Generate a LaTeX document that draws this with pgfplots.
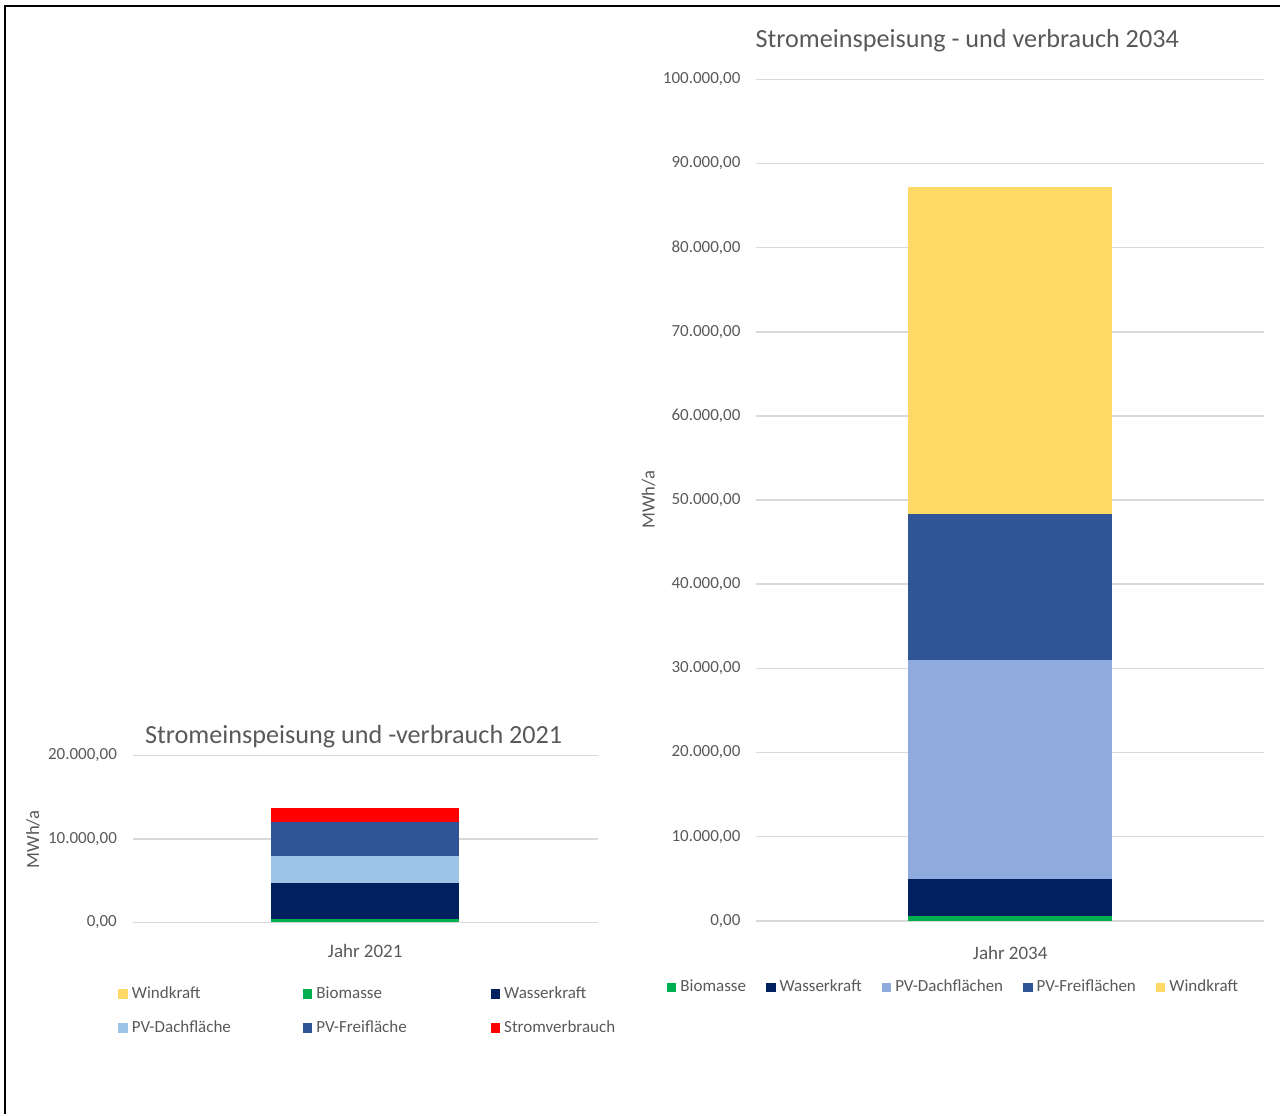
\documentclass[border=0pt]{standalone}
\usepackage{fontspec}
\setmainfont{Carlito}
\usepackage{pgfplots}
\pgfplotsset{compat=1.18}
\definecolor{cBio}{HTML}{00B050}
\definecolor{cWasser}{HTML}{002060}
\definecolor{cPVDa}{HTML}{9DC3E6}
\definecolor{cPVDb}{HTML}{8FAADC}
\definecolor{cPVF}{HTML}{2F5597}
\definecolor{cWind}{HTML}{FFD966}
\definecolor{cStrom}{HTML}{FF0000}
\definecolor{gridc}{HTML}{D9D9D9}
\definecolor{textc}{HTML}{595959}
\pgfplotsset{
  mybase/.style={
    scale only axis,
    ybar stacked,
    xmin=-1, xmax=1, ymin=0,
    axis line style={draw=none},
    tick style={draw=none},
    ymajorgrids,
    major grid style={draw=gridc, line width=0.75pt},
    xtick={0},
    scaled y ticks=false,
    /pgf/number format/assume math mode=true,
    yticklabel style={/pgf/number format/fixed, /pgf/number format/precision=2,
      /pgf/number format/fixed zerofill, /pgf/number format/use comma,
      /pgf/number format/1000 sep={.}, font=\fontsize{8.5}{10}\selectfont, text=textc, xshift=-4.5pt},
    xticklabel style={font=\fontsize{9.5}{11}\selectfont, text=textc, anchor=center},
    legend image code/.code={\fill[##1] (0pt,-2.4pt) rectangle (4.8pt,2.4pt);},
    legend cell align=left,
  }
}
\begin{document}
\begin{tikzpicture}[x=1pt,y=1pt]
\path (0,0) rectangle (640.5,557.5);
\draw[line width=1pt] (2.5,0) -- (2.5,554.5) -- (640.5,554.5);

% Left chart 2021
\begin{axis}[mybase,
  at={(66.5pt,96pt)}, anchor=south west,
  width=232.5pt, height=83.5pt,
  ymax=20000, ytick={0,10000,20000},
  bar width=94pt,
  xticklabels={Jahr 2021},
  xticklabel style={yshift=-14.5pt},
  legend columns=3,
  legend style={draw=none, fill=none, at={(-0.045,-0.335)}, anchor=north west,
    font=\fontsize{8.5}{10}\selectfont, text=textc,
    /tikz/every even column/.append style={column sep=34pt},
    row sep=5.5pt},
]
\addplot[fill=cWind, draw=none] coordinates {(0,0)};
\addplot[fill=cBio, draw=none] coordinates {(0,420)};
\addplot[fill=cWasser, draw=none] coordinates {(0,4250)};
\addplot[fill=cPVDa, draw=none] coordinates {(0,3230)};
\addplot[fill=cPVF, draw=none] coordinates {(0,4080)};
\addplot[fill=cStrom, draw=none] coordinates {(0,1670)};
\legend{Windkraft, Biomasse, Wasserkraft, PV-Dachfläche, PV-Freifläche\hspace*{6pt}, Stromverbrauch}
\end{axis}

% Right chart 2034
\begin{axis}[mybase,
  at={(378.5pt,96.75pt)}, anchor=south west,
  width=254pt, height=421pt,
  ymax=100000, ytick distance=10000,
  bar width=102pt,
  xticklabels={Jahr 2034},
  xticklabel style={yshift=-16pt},
  legend columns=5,
  legend style={draw=none, fill=none, at={(-0.189,-0.0605)}, anchor=north west,
    font=\fontsize{8.5}{10}\selectfont, text=textc,
    /tikz/every even column/.append style={column sep=8pt}},
]
\addplot[fill=cBio, draw=none] coordinates {(0,600)};
\addplot[fill=cWasser, draw=none] coordinates {(0,4400)};
\addplot[fill=cPVDb, draw=none] coordinates {(0,26000)};
\addplot[fill=cPVF, draw=none] coordinates {(0,17340)};
\addplot[fill=cWind, draw=none] coordinates {(0,38830)};
\legend{Biomasse, Wasserkraft, PV-Dachflächen, PV-Freiflächen, Windkraft}
\end{axis}

\node[text=textc, font=\fontsize{13.1}{15}\selectfont] at (177,189) {Stromeinspeisung und -verbrauch 2021};
\node[text=textc, font=\fontsize{13.1}{15}\selectfont] at (484,537) {Stromeinspeisung - und verbrauch 2034};
\node[text=textc, font=\fontsize{9.3}{11}\selectfont, rotate=90] at (16.5,137.5) {MWh/a};
\node[text=textc, font=\fontsize{9.3}{11}\selectfont, rotate=90] at (324.5,307.5) {MWh/a};
\end{tikzpicture}
\end{document}
